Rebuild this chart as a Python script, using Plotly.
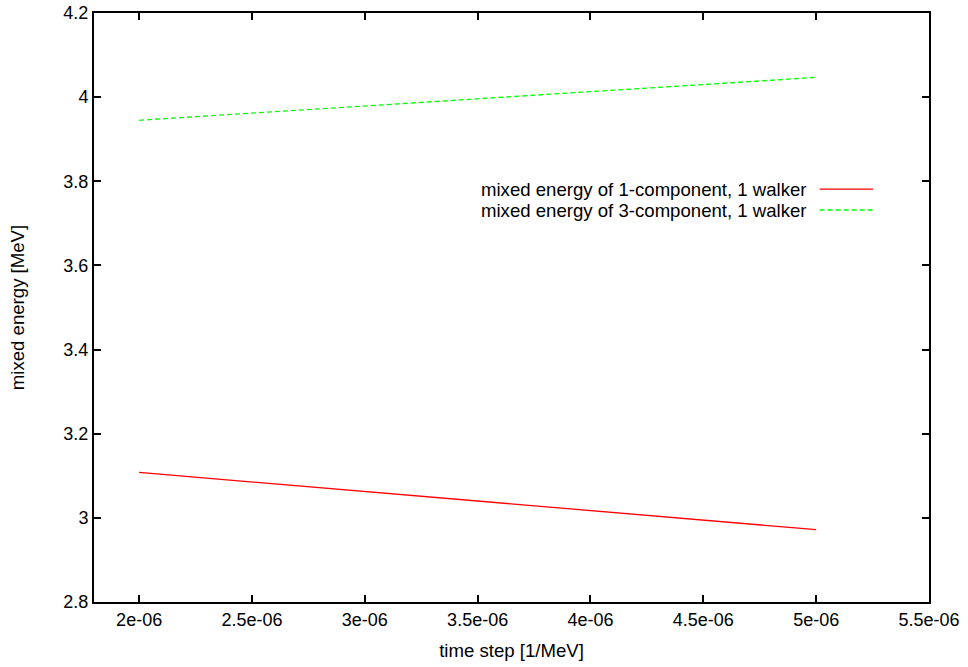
import plotly.graph_objects as go

time_step = [2e-06, 5e-06]
energy_1comp = [3.108, 2.972]
energy_3comp = [3.945, 4.047]
series_names = ["mixed energy of 1-component, 1 walker",
                "mixed energy of 3-component, 1 walker"]
series_colors = ["#ff0000", "#00ff00"]
series_dash = ["solid", "5px,3px"]
x_ticks = [2e-06, 2.5e-06, 3e-06, 3.5e-06, 4e-06, 4.5e-06, 5e-06, 5.5e-06]
x_ticktext = ["2e-06", "2.5e-06", "3e-06", "3.5e-06", "4e-06", "4.5e-06", "5e-06", "5.5e-06"]
y_ticks = [2.8, 3.0, 3.2, 3.4, 3.6, 3.8, 4.0, 4.2]
y_ticktext = ["2.8", "3", "3.2", "3.4", "3.6", "3.8", "4", "4.2"]

FONT = "Liberation Sans, Arial, Helvetica"
FS = 18
FS_TXT = 18.6

fig = go.Figure()
for name, ys, col, dash in zip(series_names, [energy_1comp, energy_3comp], series_colors, series_dash):
    fig.add_trace(go.Scatter(x=time_step, y=ys, mode="lines", name=name,
                             line=dict(color=col, width=1.3, dash=dash), showlegend=False))

# gnuplot-style legend: text right-aligned, sample line to its right
leg_y = [0.701, 0.6655]
for name, col, dash, yy in zip(series_names, series_colors, series_dash, leg_y):
    fig.add_annotation(x=0.856, y=yy, xref="paper", yref="paper", text=name,
                       showarrow=False, xanchor="right", yanchor="middle",
                       font=dict(size=FS_TXT, color="#000000", family=FONT))
    fig.add_shape(type="line", xref="paper", yref="paper", x0=0.869, x1=0.933,
                  y0=yy, y1=yy, line=dict(color=col, width=1.3, dash=dash))

axis_common = dict(showline=True, linecolor="black", linewidth=2, mirror="ticks",
                   ticks="inside", ticklen=7, tickwidth=2, tickcolor="black",
                   showgrid=False, zeroline=False, automargin=False,
                   tickfont=dict(size=FS, color="#000000", family=FONT))

fig.update_layout(
    width=968, height=667,
    margin=dict(l=94, r=39, t=13, b=65),
    paper_bgcolor="white", plot_bgcolor="white",
    font=dict(family=FONT, size=FS, color="#000000"),
    xaxis=dict(range=[1.8e-06, 5.5e-06], tickvals=x_ticks, ticktext=x_ticktext,
               title=dict(text="time step [1/MeV]", font=dict(size=FS_TXT)),
               **axis_common),
    yaxis=dict(range=[2.8, 4.2], tickvals=y_ticks, ticktext=y_ticktext,
               title=dict(text="mixed energy [MeV]", font=dict(size=FS_TXT), standoff=34),
               **axis_common),
)

fig.write_html("out.html")
